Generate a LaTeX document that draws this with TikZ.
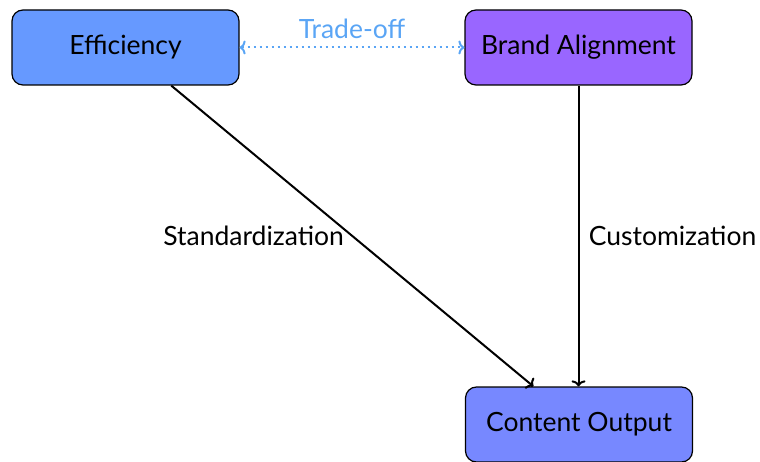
\documentclass[tikz,border=0pt]{standalone}
\usepackage{fontspec}
\setmainfont{Lato}
\usetikzlibrary{arrows.meta}
\definecolor{effblue}{HTML}{6699FF}
\definecolor{brandviolet}{HTML}{9966FF}
\definecolor{outblue}{HTML}{7788FF}
\definecolor{tradeblue}{HTML}{5AA5F5}
\tikzset{
  box/.style={draw=black, line width=1.2pt, rounded corners=11pt,
    minimum width=227pt, minimum height=75pt, font=\fontsize{26.5}{30}\selectfont},
  flow/.style={draw=black, line width=2pt, -{To[length=6pt,width=14pt]}},
  lbl/.style={font=\fontsize{26.5}{30}\selectfont},
  trade/.style={draw=tradeblue, line width=2pt, dash pattern=on 2pt off 4pt,
    {To[length=6pt,width=14pt]}-{To[length=6pt,width=14pt]}}
}
\begin{document}
\begin{tikzpicture}[x=1pt,y=-1pt]
  \useasboundingbox (0,0) rectangle (760,462);
  \node[box, fill=effblue] (eff) at (125.5,47.5) {Efficiency};
  \node[box, fill=brandviolet] (brand) at (578.5,47.5) {Brand Alignment};
  \node[box, fill=outblue] (out) at (579,424.5) {Content Output};
  \draw[trade] (eff) -- node[above=4pt, text=tradeblue, lbl] {Trade-off} (brand);
  \draw[flow] (eff) -- node[anchor=east, lbl, xshift=-4pt] {Standardization} (out);
  \draw[flow] (brand) -- node[anchor=west, lbl, xshift=6pt] {Customization} (brand |- out.north);
\end{tikzpicture}
\end{document}
